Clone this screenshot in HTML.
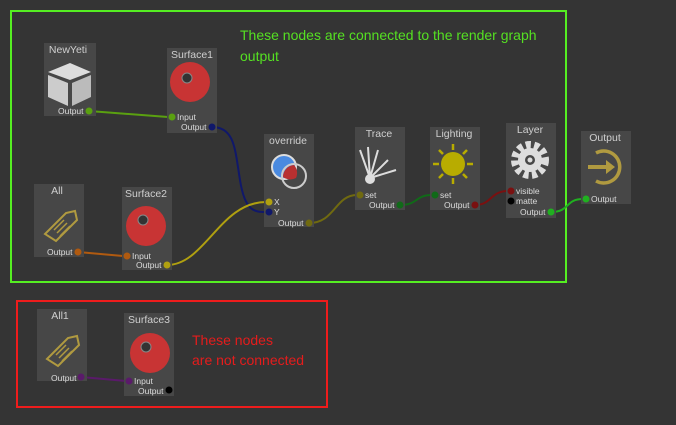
<!DOCTYPE html>
<html><head><meta charset="utf-8"><style>
html,body{margin:0;padding:0;background:#343434;width:676px;height:425px;overflow:hidden}
svg{display:block;font-family:"Liberation Sans",sans-serif}
.t{fill:#cfcfcf;font-size:10.5px;text-anchor:middle}
.p{fill:#dcdcdc;font-size:8.5px}
</style></head><body>
<svg width="676" height="425" viewBox="0 0 676 425">
<rect width="676" height="425" fill="#343434"/>
<rect x="11" y="11" width="555" height="271" fill="none" stroke="#55ee22" stroke-width="2"/>
<rect x="17" y="301" width="310" height="106" fill="none" stroke="#ee1c1c" stroke-width="2"/>
<text x="240" y="40" fill="#55e022" font-size="14">These nodes are connected to the render graph</text>
<text x="240" y="61" fill="#55e022" font-size="14">output</text>
<text x="192" y="345" fill="#e51c1c" font-size="14">These nodes</text>
<text x="192" y="365" fill="#e51c1c" font-size="14">are not connected</text>

<g fill="none" stroke-width="2">
<path d="M89 111 L168 117" stroke="#5aa010"/>
<path d="M212 127 C235 127 235 150 240 180 C245 212 255 212 266 212" stroke="#10186a"/>
<path d="M78 252 L123 256" stroke="#b05a10"/>
<path d="M167 265 C205 265 220 202 266 202" stroke="#b0a010"/>
<path d="M309 223 C335 223 335 195 357 195" stroke="#706a10"/>
<path d="M400 205 C418 205 415 195 432 195" stroke="#106a18"/>
<path d="M475 205 C492 205 490 191 508 191" stroke="#7a1010"/>
<path d="M551 212 C570 212 565 199 583 199" stroke="#20b020"/>
<path d="M81 377 L126 381" stroke="#5a1a6a"/>
</g>

<g>
<rect x="44" y="43" width="52" height="73" fill="#474747"/><text class="t" x="68" y="53">NewYeti</text>
<path d="M48 72 L70 63 L91 72 L70 80Z" fill="#ddd"/><path d="M48 75 L68 83 L68 106 L48 97Z" fill="#ccc"/><path d="M72 83 L91 75 L91 97 L72 106Z" fill="#bbb"/>
<text class="p" x="58" y="114">Output</text><circle cx="89" cy="111" r="3.5" fill="#5aa010"/></g>

<g>
<rect x="167" y="48" width="50" height="85" fill="#474747"/><text class="t" x="192" y="58">Surface1</text>
<circle cx="190" cy="82" r="20" fill="#c83434"/><circle cx="187" cy="78" r="5" fill="#333" stroke="#888" stroke-width="1"/>
<circle cx="172" cy="117" r="3.5" fill="#5aa010"/><text class="p" x="177" y="120">Input</text>
<text class="p" x="181" y="130">Output</text><circle cx="212" cy="127" r="3.5" fill="#10186a"/></g>

<g>
<rect x="264" y="134" width="50" height="93" fill="#474747"/><text class="t" x="288" y="144">override</text>
<circle cx="284" cy="167" r="12" fill="#4a8ae0" stroke="#ddd" stroke-width="2"/>
<circle cx="294" cy="176" r="12" fill="none" stroke="#ccc" stroke-width="2"/>
<path d="M283 177 A12 12 0 0 1 294 165 A12 12 0 0 1 296 178 A12 12 0 0 1 283 177Z" fill="#b83030"/>
<circle cx="269" cy="202" r="3.5" fill="#b0a010"/><text class="p" x="274" y="205">X</text>
<circle cx="269" cy="212" r="3.5" fill="#10186a"/><text class="p" x="274" y="215">Y</text>
<text class="p" x="278" y="226">Output</text><circle cx="309" cy="223" r="3.5" fill="#706a10"/></g>

<g>
<rect x="34" y="184" width="50" height="73" fill="#474747"/><text class="t" x="57" y="194">All</text>
<path d="M45 234 L66 213 L75 211 L77 220 L56 241Z" fill="none" stroke="#b09a40" stroke-width="2"/>
<path d="M54 230 L64 220 M57 233 L67 223 M60 236 L70 226" stroke="#b09a40" stroke-width="1.5"/>
<text class="p" x="47" y="255">Output</text><circle cx="78" cy="252" r="3.5" fill="#b05a10"/></g>

<g>
<rect x="122" y="187" width="50" height="83" fill="#474747"/><text class="t" x="146" y="197">Surface2</text>
<circle cx="146" cy="226" r="20" fill="#c83434"/><circle cx="143" cy="220" r="5" fill="#333" stroke="#888" stroke-width="1"/>
<circle cx="127" cy="256" r="3.5" fill="#b05a10"/><text class="p" x="132" y="259">Input</text>
<text class="p" x="136" y="268">Output</text><circle cx="167" cy="265" r="3.5" fill="#b0a010"/></g>

<g>
<rect x="355" y="127" width="50" height="83" fill="#474747"/><text class="t" x="379" y="137">Trace</text>
<g stroke="#ddd" stroke-width="2"><path d="M370 178 L360 150 M370 178 L368 147 M370 178 L378 150 M370 178 L388 160 M370 178 L396 170"/></g>
<circle cx="370" cy="179" r="5" fill="#ddd"/>
<circle cx="360" cy="195" r="3.5" fill="#706a10"/><text class="p" x="365" y="198">set</text>
<text class="p" x="369" y="208">Output</text><circle cx="400" cy="205" r="3.5" fill="#106a18"/></g>

<g>
<rect x="430" y="127" width="50" height="83" fill="#474747"/><text class="t" x="454" y="137">Lighting</text>
<circle cx="453" cy="164" r="12" fill="#b8ac00"/>
<g stroke="#b8ac00" stroke-width="2.5"><path d="M453 144 v6 M453 178 v6 M433 164 h6 M467 164 h6 M439 150 l4 4 M463 174 l4 4 M467 150 l-4 4 M439 178 l4 -4"/></g>
<circle cx="435" cy="195" r="3.5" fill="#106a18"/><text class="p" x="440" y="198">set</text>
<text class="p" x="444" y="208">Output</text><circle cx="475" cy="205" r="3.5" fill="#7a1010"/></g>

<g>
<rect x="506" y="123" width="50" height="95" fill="#474747"/><text class="t" x="530" y="133">Layer</text>
<circle cx="530" cy="160" r="15" fill="none" stroke="#ddd" stroke-width="8" stroke-dasharray="5 3.3"/>
<circle cx="530" cy="160" r="12" fill="#ddd"/><circle cx="530" cy="160" r="5" fill="#474747"/><circle cx="530" cy="160" r="2.5" fill="#ddd"/>
<circle cx="511" cy="191" r="3.5" fill="#7a1010"/><text class="p" x="516" y="194">visible</text>
<circle cx="511" cy="201" r="3.5" fill="#000"/><text class="p" x="516" y="204">matte</text>
<text class="p" x="520" y="215">Output</text><circle cx="551" cy="212" r="3.5" fill="#20b020"/></g>

<g>
<rect x="581" y="131" width="50" height="73" fill="#474747"/><text class="t" x="605" y="141">Output</text>
<path d="M596 153 A16 16 0 1 1 596 181" fill="none" stroke="#b09a40" stroke-width="3.5"/>
<path d="M588 165 h18 v-5 l9 7 -9 7 v-5 h-18z" fill="#b09a40"/>
<circle cx="586" cy="199" r="3.5" fill="#20b020"/><text class="p" x="591" y="202">Output</text></g>

<g>
<rect x="37" y="309" width="50" height="72" fill="#474747"/><text class="t" x="60" y="319">All1</text>
<path d="M47 359 L68 338 L77 336 L79 345 L58 366Z" fill="none" stroke="#b09a40" stroke-width="2"/>
<path d="M56 355 L66 345 M59 358 L69 348 M62 361 L72 351" stroke="#b09a40" stroke-width="1.5"/>
<text class="p" x="51" y="381">Output</text><circle cx="81" cy="377" r="3.5" fill="#5a1a6a"/></g>

<g>
<rect x="124" y="313" width="50" height="83" fill="#474747"/><text class="t" x="149" y="323">Surface3</text>
<circle cx="150" cy="353" r="20" fill="#c83434"/><circle cx="146" cy="347" r="5" fill="#333" stroke="#888" stroke-width="1"/>
<circle cx="129" cy="381" r="3.5" fill="#5a1a6a"/><text class="p" x="134" y="384">Input</text>
<text class="p" x="138" y="394">Output</text><circle cx="169" cy="390" r="3.5" fill="#000"/></g>
</svg>
</body></html>
